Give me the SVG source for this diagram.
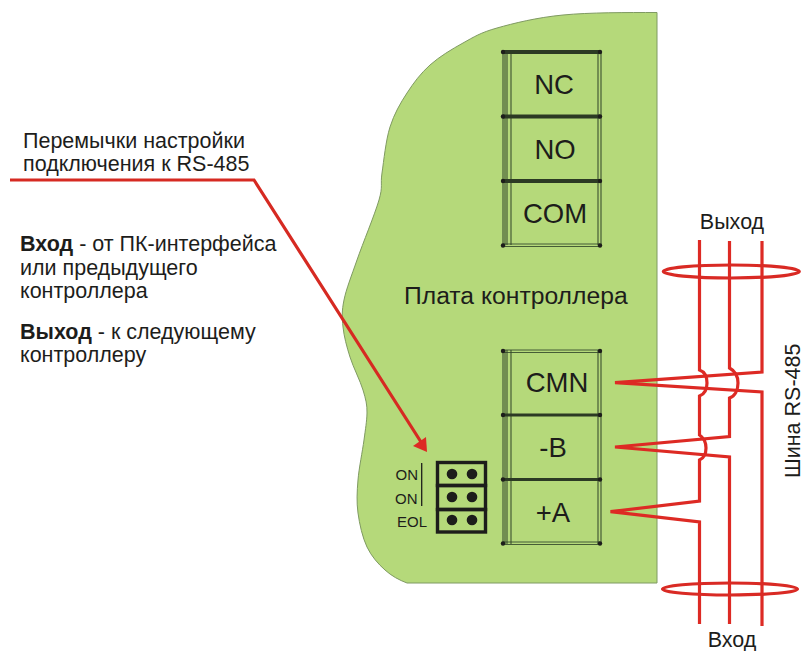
<svg xmlns="http://www.w3.org/2000/svg" width="805" height="651" viewBox="0 0 805 651">
<style>
text{font-family:"Liberation Sans",Arial,sans-serif;fill:#1d1d1b}
.t{font-size:21.5px}
.k{font-size:27.500px;text-anchor:middle}
.j{font-size:15px;text-anchor:end}
.b{font-weight:bold}
.frame{fill:none;stroke:#33472a;stroke-width:1.2;opacity:.85}
.bar{stroke:#2c3a24;stroke-width:4;fill:none}
.thin{stroke:#2c3a24;stroke-width:3;fill:none}
.w{fill:none;stroke:#dd2a24;stroke-width:3.2;stroke-linejoin:miter}
.ring{fill:none;stroke:#d92a24;stroke-width:3.2}
.d{fill:#1d1d1b}
.jb{fill:none;stroke:#1d1d1b;stroke-width:3.4}
</style>
<rect width="805" height="651" fill="#fff"/>
<path id="board" d="M657 12.500C627 12.500 589.700 12.400 563 15C536.300 17.600 513.700 23.300 497 28C480.300 32.700 474.200 36.800 463 43C451.800 49.200 439.300 56.700 430 65C420.700 73.300 413.700 82.700 407 93C400.300 103.300 394.200 113.700 390 127C385.800 140.300 383.800 160.800 382 173C380.200 185.200 383.200 185.500 379 200C374.800 214.500 362.800 243.300 357 260C351.200 276.700 346.300 288.800 344 300C341.700 311.200 342 317.500 343 327C344 336.500 346.700 346.500 350 357C353.300 367.500 360.200 380.700 363 390C365.800 399.300 367.200 404.700 367 413C366.800 421.300 365.500 428.800 364 440C362.500 451.200 359 467.800 358 480C357 492.200 356.500 501.800 358 513C359.500 524.200 362.500 537.500 367 547C371.500 556.500 378.300 564 385 570C391.700 576 399 580 407 583L657 583Z" fill="#b5d97a" stroke="#7f9a62" stroke-width="1"/>
<g id="relay-block">
<path class="frame" d="M503 52V245M505 52V245M507 52V245M511 52V245M598 52V245M601 52V245"/>
<path class="bar" d="M503 52H600M503 116.500H600M503 181H600"/>
<path class="frame" d="M503 244H600M503 246.500H600"/>
<g class="d"><circle cx="503" cy="52" r="2.200"/><circle cx="600" cy="52" r="2.200"/><circle cx="503" cy="116.500" r="2.200"/><circle cx="600" cy="116.500" r="2.200"/><circle cx="503" cy="181" r="2.200"/><circle cx="600" cy="181" r="2.200"/><circle cx="503" cy="245.500" r="2.200"/><circle cx="600" cy="245.500" r="2.200"/></g>
<text class="k" x="554" y="94">NC</text>
<text class="k" x="555" y="159">NO</text>
<text class="k" x="555" y="223">COM</text>
</g>
<g id="bus-block">
<path class="frame" d="M503 350V544M505 350V544M507 350V544M511 350V544M598 350V544M601 350V544"/>
<path class="frame" d="M503 350H600M503 352.500H600M503 542H600M503 544.500H600"/>
<path class="thin" d="M503 415H600M503 479.500H600"/>
<g class="d"><circle cx="503" cy="351" r="2.200"/><circle cx="600" cy="351" r="2.200"/><circle cx="503" cy="415" r="2.200"/><circle cx="600" cy="415" r="2.200"/><circle cx="503" cy="479.500" r="2.200"/><circle cx="600" cy="479.500" r="2.200"/><circle cx="503" cy="543.500" r="2.200"/><circle cx="600" cy="543.500" r="2.200"/></g>
<text class="k" x="557" y="392">CMN</text>
<text class="k" x="553" y="457">-B</text>
<text class="k" x="553" y="522">+A</text>
</g>
<g id="jumper">
<rect class="jb" x="437.500" y="462.500" width="48" height="23"/>
<rect class="jb" x="437.500" y="485.500" width="48" height="24"/>
<rect class="jb" x="437.500" y="509.500" width="48" height="22.500"/>
<g class="d"><circle cx="452" cy="474" r="5.300"/><circle cx="472" cy="474" r="5.300"/>
<circle cx="452" cy="497" r="5.300"/><circle cx="472" cy="497" r="5.300"/>
<circle cx="452" cy="520" r="5.300"/><circle cx="472" cy="520" r="5.300"/></g>
<path d="M421.700 463V506" stroke="#1d1d1b" stroke-width="1.300"/>
<text class="j" x="418" y="480">ON</text>
<text class="j" x="417.500" y="504">ON</text>
<text class="j" x="427" y="527">EOL</text>
</g>
<g id="connectors">
<path class="w" d="M699.500 240V370C705 372 707 378 707 383C707 390 705 394 699.500 396V435C704 438 706 443 706 448C706 454 704 458 699.500 460V501L610.500 511.700L699.500 522V624"/>
<path class="w" d="M729.500 241V368C735 371 738 377 738 383C738 390 735 396 729.500 398V436.500L615 447L729.500 457V624"/>
<path class="w" d="M762 241V372L615 382.700L762 392V626"/>
<ellipse class="ring" cx="731.300" cy="271.500" rx="68" ry="6.500"/>
<ellipse class="ring" cx="730" cy="589" rx="67.500" ry="6"/>
<path d="M10 180H254L421 442" fill="none" stroke="#d62a22" stroke-width="3.200"/>
<polygon points="427 452 413 446 426 437" fill="#dd2a24"/>
</g>
<g id="labels">
<text class="t" x="23" y="148">Перемычки настройки</text>
<text class="t" x="23" y="171">подключения к RS-485</text>
<text class="t" x="20" y="251"><tspan class="b">Вход</tspan> - от ПК-интерфейса</text>
<text class="t" x="20" y="275">или предыдущего</text>
<text class="t" x="20" y="298">контроллера</text>
<text class="t" x="20" y="339"><tspan class="b">Выход</tspan> - к следующему</text>
<text class="t" x="20" y="362">контроллеру</text>
<text x="404" y="304" font-size="24.700px">Плата контроллера</text>
<text class="t" x="732" y="229" text-anchor="middle">Выход</text>
<text class="t" x="732" y="646.500" text-anchor="middle">Вход</text>
<text class="t" transform="translate(800 478) rotate(-90)">Шина RS-485</text>
</g>
</svg>
